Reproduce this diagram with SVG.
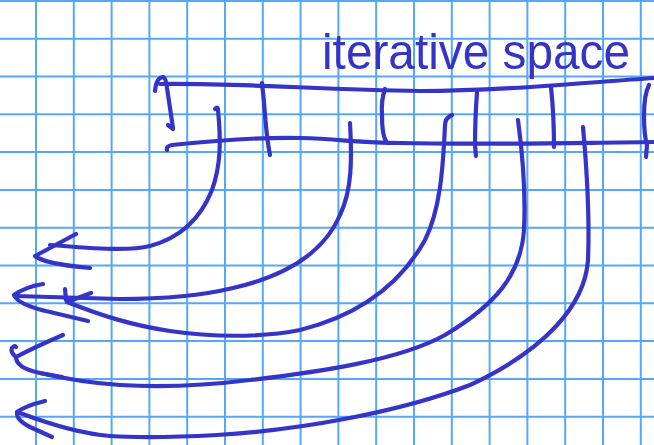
<svg xmlns="http://www.w3.org/2000/svg" width="654" height="445" viewBox="0 0 654 445">
<style>
.grid{stroke:#55a8f6;stroke-width:2;fill:none}
.ink{stroke:#3434c8;stroke-width:4.2;fill:none;stroke-linecap:round;stroke-linejoin:round}
.label{fill:#3434c8;font-family:"Liberation Sans",Arial,sans-serif;font-size:50px}
</style>
<rect width="654" height="445" fill="#ffffff"/>
<g id="grid">
<path class="grid" d="M36,0V445M73.8,0V445M111.6,0V445M149.4,0V445M187.2,0V445M225,0V445M262.8,0V445M300.6,0V445M338.4,0V445M376.2,0V445M414,0V445M451.8,0V445M489.6,0V445M527.4,0V445M565.2,0V445M603,0V445M640.8,0V445M0,0.9H654M0,38.7H654M0,76.5H654M0,114.3H654M0,152.1H654M0,189.9H654M0,227.7H654M0,265.5H654M0,303.3H654M0,341.1H654M0,378.9H654M0,416.7H654"/>
</g>
<g id="title">
<text class="label" x="322" y="69" textLength="308" lengthAdjust="spacingAndGlyphs">iterative space</text>
</g>
<g id="strip">
<path class="ink" d="M160,84 C250,83 320,90 420,91 C500,91 580,83 654,78"/>
<path class="ink" d="M167,150 Q166,146 172,145 C210,141 260,137 300,138 C340,139 360,143 400,143 C480,145 560,143 654,142"/>
<path class="ink" d="M155,91 Q156,78 163,77 Q166,78 167,88 L173,128 M168,125 L173,129"/>
<path class="ink" d="M262,83 Q264,100 265,115 Q267,140 270,155"/>
<path class="ink" d="M385,89 Q381,100 382,115 Q382,135 386,141"/>
<path class="ink" d="M477,92 Q475,120 475,145 L476,156"/>
<path class="ink" d="M551,87 Q554,115 554,147"/>
<path class="ink" d="M649,85 Q644,95 644,115 Q644,135 647,145 L646,157"/>
</g>
<g id="connectors">
<path class="ink" d="M215,109 Q218,106 218,110 C221,140 221,165 212,190 C200,220 180,238 150,246 C130,251 100,249 50,245"/>
<path class="ink" d="M76,234 L35,256 Q45,264 90,268"/>
<path class="ink" d="M350,123 C352,160 352,190 340,215 C325,250 290,275 233,288 C200,296 160,299 120,299 L15,296"/>
<path class="ink" d="M43,284 Q25,287 14,295 Q18,305 50,312 L88,321"/>
<path class="ink" d="M452,115 Q445,118 445,125 C443,170 440,210 425,240 C400,285 360,315 300,330 C260,338 210,337 170,331 C130,325 100,315 67,302"/>
<path class="ink" d="M91,293 L67,302 M65,289 L66,300"/>
<path class="ink" d="M518,120 C522,150 526,190 524,230 C521,275 495,305 445,335 C400,360 320,372 250,380 C210,385 170,388 120,385 C90,383 70,380 40,373"/>
<path class="ink" d="M63,335 Q35,347 16,357 Q16,368 40,373 L62,377 M16,357 Q10,352 12,348 Q14,345 16,347"/>
<path class="ink" d="M583,127 C586,160 590,210 588,260 C585,305 545,350 470,385 C400,412 300,430 217,435 C180,437 140,438 110,436 C85,434 60,428 20,413"/>
<path class="ink" d="M45,401 Q25,406 17,412 Q16,420 30,427 L52,437"/>
</g>
</svg>
